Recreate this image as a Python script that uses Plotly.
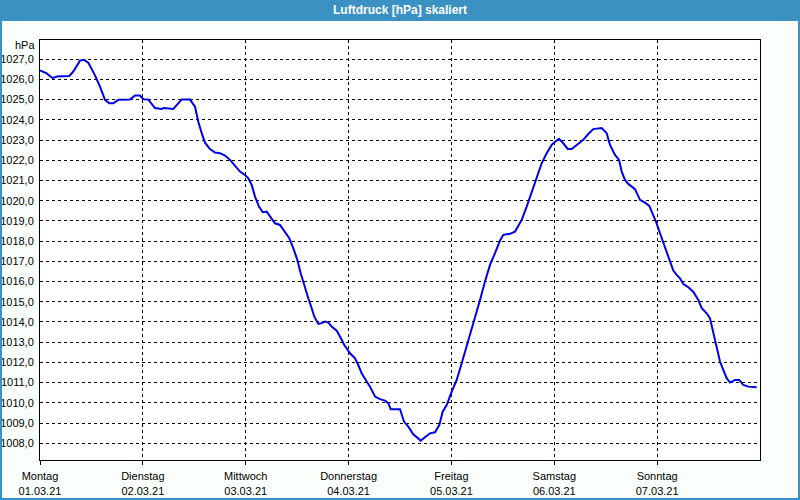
import plotly.graph_objects as go

# Hours since Monday 01.03.21 00:00
hours = [0, 1.56, 2.96, 3.9, 6.84, 7.77, 9.33, 10.27, 11.27, 12.83, 14.0, 15.17, 16.17, 17.1,
         18.27, 21.0, 22.17, 23.33, 24.1, 25.27, 26.83, 28.4, 28.93, 31.1, 33.06, 35.0, 36.17,
         36.94, 37.73, 38.5, 39.67, 40.83, 42.0, 43.17, 44.33, 45.5, 46.67, 47.83, 48.6, 49.4,
         50.17, 51.1, 51.96, 52.9, 53.67, 54.83, 56.0, 57.17, 58.17, 59.1, 60.04, 60.83, 61.6,
         62.6, 63.4, 64.0, 64.94, 65.73, 66.5, 67.27, 68.06, 69.23, 70.0, 71.0, 72.33, 73.5,
         74.27, 75.06, 76.23, 77.0, 78.17, 79.33, 80.5, 81.27, 81.83, 84.0, 84.93, 85.94, 87.1,
         88.83, 89.83, 91.0, 92.17, 93.17, 93.96, 94.9, 96.06, 97.23, 98.4, 99.56, 100.73,
         101.73, 102.67, 103.83, 105.0, 106.17, 107.33, 108.1, 109.67, 110.83, 111.83, 112.4,
         113.56, 114.73, 115.9, 117.06, 118.23, 119.4, 120.17, 121.1, 122.1, 123.13, 124.06,
         125.23, 126.77, 127.93, 129.1, 131.06, 132.23, 133.0, 134.17, 135.1, 135.73, 136.5,
         137.27, 138.83, 140.0, 141.17, 142.17, 142.73, 143.73, 144.67, 145.83, 146.83, 147.77,
         148.56, 149.33, 150.1, 151.27, 152.43, 153.6, 154.4, 155.56, 156.33, 157.1, 157.9,
         158.67, 159.43, 160.23, 161.0, 162.17, 163.17, 164.1, 165.27, 166.6, 167.23]

pressure = [1026.44, 1026.3, 1026.06, 1026.14, 1026.17, 1026.39, 1026.93, 1026.97, 1026.83,
            1026.2, 1025.64, 1024.99, 1024.82, 1024.82, 1024.99, 1025.0, 1025.2, 1025.2,
            1025.02, 1025.0, 1024.58, 1024.54, 1024.59, 1024.54, 1025.0, 1025.0, 1024.65,
            1023.91, 1023.34, 1022.87, 1022.55, 1022.38, 1022.35, 1022.23, 1022.02, 1021.72,
            1021.44, 1021.27, 1021.11, 1020.78, 1020.2, 1019.71, 1019.43, 1019.46, 1019.21,
            1018.88, 1018.8, 1018.47, 1018.14, 1017.65, 1017.07, 1016.41, 1015.83, 1015.17,
            1014.68, 1014.26, 1013.9, 1013.94, 1014.02, 1013.97, 1013.77, 1013.57, 1013.28,
            1012.86, 1012.45, 1012.2, 1011.87, 1011.46, 1011.05, 1010.8, 1010.31, 1010.18,
            1010.11, 1009.98, 1009.68, 1009.68, 1009.07, 1008.82, 1008.44, 1008.13, 1008.3,
            1008.49, 1008.54, 1008.9, 1009.56, 1009.89, 1010.55, 1011.13, 1011.96, 1012.78,
            1013.6, 1014.35, 1015.09, 1016.0, 1016.82, 1017.4, 1018.02, 1018.31, 1018.36,
            1018.47, 1018.8, 1019.05, 1019.71, 1020.45, 1021.19, 1021.85, 1022.35, 1022.76,
            1022.92, 1023.06, 1022.84, 1022.56, 1022.56, 1022.76, 1023.01, 1023.3, 1023.54,
            1023.59, 1023.34, 1022.76, 1022.26, 1022.02, 1021.44, 1021.03, 1020.83, 1020.57,
            1020.04, 1019.9, 1019.74, 1019.46, 1018.96, 1018.39, 1017.73, 1017.07, 1016.54,
            1016.33, 1016.16, 1015.88, 1015.72, 1015.5, 1015.09, 1014.68, 1014.43, 1014.18,
            1013.44, 1012.62, 1012.04, 1011.63, 1011.22, 1011.0, 1011.13, 1011.13, 1010.88,
            1010.8, 1010.8, 1010.77]

day_names = ["Montag", "Dienstag", "Mittwoch", "Donnerstag", "Freitag", "Samstag", "Sonntag"]
day_dates = ["01.03.21", "02.03.21", "03.03.21", "04.03.21", "05.03.21", "06.03.21", "07.03.21"]
day_hours = [0, 24, 48, 72, 96, 120, 144]

y_ticks = [1008.0 + i for i in range(20)]
y_ticktext = [f"{v:.1f}".replace(".", ",") for v in y_ticks]

FONT = "Liberation Sans"
BLUE_FRAME = "#3c91c3"

fig = go.Figure()
fig.add_trace(go.Scatter(x=hours, y=pressure, mode="lines",
                         line=dict(color="#0000e8", width=2), hoverinfo="skip"))

W, H = 800, 500
ml, mr, mt, mb = 40, 40, 40, 40
pw, ph = W - ml - mr, H - mt - mb

def px_x(p):
    return (p - ml) / pw

def px_y(p):
    return (H - mb - p) / ph

fig.update_layout(
    width=W, height=H,
    margin=dict(l=ml, r=mr, t=mt, b=mb, pad=0),
    paper_bgcolor="#fbfffc",
    plot_bgcolor="#ffffff",
    showlegend=False,
    font=dict(family=FONT, size=11, color="#000000"),
    xaxis=dict(
        range=[0, 168], tickmode="array", tickvals=day_hours,
        ticktext=[f"{n}<br>{d}" for n, d in zip(day_names, day_dates)],
        showgrid=True, gridcolor="#000000", griddash="3px,3px", gridwidth=1,
        showline=True, linecolor="#000000", linewidth=1, mirror=True,
        ticks="outside", ticklen=4, tickcolor="#000000", zeroline=False,
        automargin=False, ticklabelstandoff=2,
        tickfont=dict(family=FONT, size=11, color="#000000"),
    ),
    yaxis=dict(
        range=[1007.17, 1027.95], tickmode="array", tickvals=y_ticks, ticktext=y_ticktext,
        showgrid=True, gridcolor="#000000", griddash="3px,3px", gridwidth=1,
        showline=True, linecolor="#000000", linewidth=1, mirror=True,
        ticks="", zeroline=False, ticklabelstandoff=3, automargin=False,
        tickfont=dict(family=FONT, size=11, color="#000000"),
    ),
    shapes=[
        dict(type="rect", xref="paper", yref="paper", layer="below",
             x0=px_x(0), x1=px_x(W), y0=px_y(20), y1=px_y(0),
             fillcolor=BLUE_FRAME, line=dict(width=0)),
        dict(type="rect", xref="paper", yref="paper", layer="above",
             x0=px_x(1), x1=px_x(W - 1), y0=px_y(H - 1), y1=px_y(20),
             fillcolor="rgba(0,0,0,0)", line=dict(color=BLUE_FRAME, width=2)),
    ],
    annotations=[
        dict(text="<b>Luftdruck [hPa] skaliert</b>", xref="paper", yref="paper",
             x=px_x(400), y=px_y(10), xanchor="center", yanchor="middle",
             showarrow=False, font=dict(family=FONT, size=12, color="#ffffff")),
        dict(text="hPa", xref="paper", yref="paper",
             x=px_x(37), y=px_y(45), xanchor="right", yanchor="middle",
             showarrow=False, font=dict(family=FONT, size=11, color="#000000")),
    ],
)

fig.write_html("out.html")
